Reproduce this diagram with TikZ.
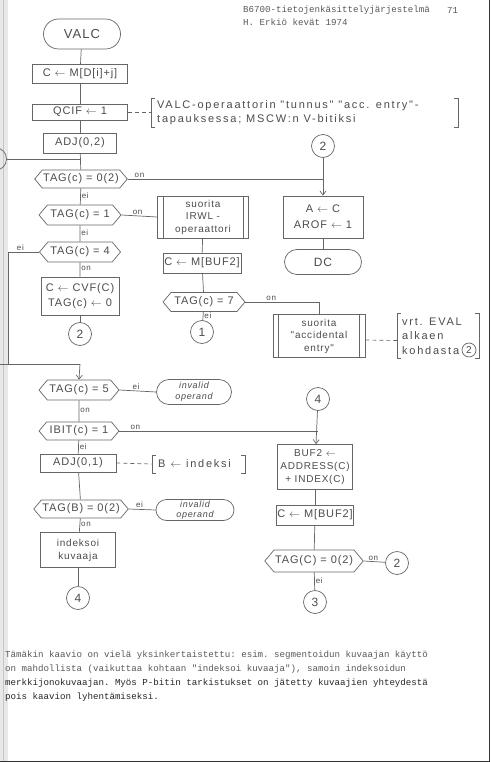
\documentclass[tikz,border=0pt]{standalone}
\usepackage{fontspec}
\setmainfont{Liberation Sans}
\setmonofont{Liberation Mono}
\newfontfamily\hand[LetterSpace=8]{Liberation Sans}
\newfontfamily\handw[LetterSpace=16]{Liberation Sans}
\usetikzlibrary{shapes.misc,shapes.symbols,arrows.meta}
\definecolor{ink}{gray}{0.30}
\definecolor{pen}{gray}{0.40}
\definecolor{type}{gray}{0.35}
\tikzset{
 base/.style={draw=pen, line width=0.7pt, text=ink, font=\hand\fontsize{11}{13}\selectfont, inner sep=1pt, align=center},
 proc/.style={base, rectangle},
 dec/.style={base, signal, signal to=east and west, signal pointer angle=100},
 term/.style={base, rounded rectangle},
 conn/.style={base, circle, minimum size=23pt, font=\hand\fontsize{12}{14}\selectfont},
 lbl/.style={text=ink, font=\hand\fontsize{8}{9}\selectfont, inner sep=1pt},
 note/.style={text=ink, font=\handw\fontsize{11}{13}\selectfont, inner sep=0pt, anchor=west},
 flow/.style={draw=pen, line width=0.7pt},
 arr/.style={flow, -{Straight Barb[length=4pt,width=6pt]}},
 dline/.style={flow, dash pattern=on 4pt off 3pt},
 tt/.style={text=type, font=\ttfamily\fontsize{9.15}{11}\selectfont, inner sep=0pt, anchor=west},
}
\begin{document}
\begin{tikzpicture}[x=1pt,y=-1pt]
\useasboundingbox (0,0) rectangle (490,762);
\fill[white] (0,0) rectangle (490,762);
% scan shadow at the left edge
\fill[gray!18] (0,0) rectangle (8,762);
\draw[gray!45, line width=0.8pt] (3,0) -- (3,762);
% frame at right and bottom
\draw[black!80, line width=1.4pt] (489.3,0) -- (489.3,761.3) -- (0,761.3);

% header
\node[tt] (h1) at (243,10) {B6700-tietojenkäsittelyjärjestelmä};
\node[tt] (h2) at (447,10) {71};
\node[tt] (h3) at (243,22) {H. Erkiö  kevät 1974};

% main column
\node[term, minimum width=79pt, minimum height=30pt, font=\hand\fontsize{13}{15}\selectfont] (valc) at (82,34) {VALC};
\node[proc, minimum width=95pt, minimum height=19pt] (c1) at (80,74) {C $\leftarrow$ M[D[i]+j]};
\node[proc, minimum width=95pt, minimum height=16pt] (qcif) at (80,112) {QCIF $\leftarrow$ 1};
\node[proc, minimum width=73pt, minimum height=20pt] (adj) at (80,143) {ADJ(0,2)};
\coordinate (join) at (80,159);
\node[conn] (lc) at (-5,159) {};
\node[dec, minimum width=82pt, minimum height=18pt] (t0) at (81,179) {TAG(c) = 0(2)};
\node[dec, minimum width=82pt, minimum height=20pt] (t1) at (80,215) {TAG(c) = 1};
\node[dec, minimum width=81pt, minimum height=20pt] (t4) at (80,252) {TAG(c) = 4};
\node[proc, minimum width=78pt, minimum height=38pt] (cvf) at (80,296) {C $\leftarrow$ CVF(C)\\[2pt]TAG(c) $\leftarrow$ 0};
\node[conn] (ca2) at (80,334) {2};

% IRWL branch
\node[proc, minimum width=91pt, minimum height=42pt, font=\hand\fontsize{10}{12.5}\selectfont] (irwl) at (203,217) {suorita\\IRWL -\\operaattori};
\draw[flow] ([xshift=6pt]irwl.north west) -- ([xshift=6pt]irwl.south west);
\draw[flow] ([xshift=-6pt]irwl.north east) -- ([xshift=-6pt]irwl.south east);
\node[proc, minimum width=78pt, minimum height=20pt] (buf) at (202,263) {C $\leftarrow$ M[BUF2]};
\node[dec, minimum width=82pt, minimum height=19pt] (t7) at (204,302) {TAG(c) = 7};
\node[conn] (c1c) at (202,332) {1};
\node[proc, minimum width=92pt, minimum height=43pt, font=\hand\fontsize{10}{12.5}\selectfont] (acc) at (319,336) {suorita\\"accidental\\entry"};
\draw[flow] ([xshift=6pt]acc.north west) -- ([xshift=6pt]acc.south west);
\draw[flow] ([xshift=-6pt]acc.north east) -- ([xshift=-6pt]acc.south east);

% top right branch
\node[conn] (c2t) at (323,146) {2};
\node[proc, minimum width=80pt, minimum height=42pt] (arof) at (323,217) {A $\leftarrow$ C\\[3pt]AROF $\leftarrow$ 1};
\node[term, minimum width=79pt, minimum height=25pt, font=\hand\fontsize{12}{14}\selectfont] (dc) at (323,262) {DC};

% lower part
\coordinate (le) at (0,364);
\node[dec, minimum width=80pt, minimum height=20pt] (t5) at (79,390) {TAG(c) = 5};
\node[term, minimum width=77pt, minimum height=25pt, font=\hand\itshape\fontsize{9}{11}\selectfont] (inv1) at (194,392) {invalid\\operand};
\node[dec, minimum width=80pt, minimum height=18pt] (ibit) at (79,431) {IBIT(c) = 1};
\node[proc, minimum width=76pt, minimum height=18pt] (adj1) at (78,463) {ADJ(0,1)};
\node[dec, minimum width=82pt, minimum height=18pt] (tb) at (81,509) {TAG(B) = 0(2)};
\node[term, minimum width=80pt, minimum height=21pt, font=\hand\itshape\fontsize{9}{10}\selectfont] (inv2) at (195,510) {invalid\\operand};
\node[proc, minimum width=75pt, minimum height=35pt, font=\hand\fontsize{10}{13}\selectfont] (idx) at (78,550) {indeksoi\\kuvaaja};
\node[conn] (c4a) at (78,598) {4};

\node[conn] (c4b) at (318,399) {4};
\node[proc, minimum width=75pt, minimum height=45pt, font=\hand\fontsize{10}{13}\selectfont] (baddr) at (315,467) {BUF2 $\leftarrow$\\ADDRESS(C)\\+ INDEX(C)};
\node[proc, minimum width=75pt, minimum height=20pt] (cb2) at (315,515) {C $\leftarrow$ M[BUF2]};
\node[dec, minimum width=82pt, minimum height=22pt] (t02) at (314,561) {TAG(C) = 0(2)};
\node[conn] (c2r) at (397,563) {2};
\node[conn] (c3) at (315,602) {3};

% annotations (brackets)
\draw[flow] (155,98) -- (151,98) -- (151,127) -- (155,127);
\draw[flow] (454,98) -- (458,98) -- (458,127) -- (454,127);
\node[note] (n1) at (157,106) {VALC-operaattorin "tunnus" "acc. entry"-};
\node[note] (n2) at (157,120) {tapauksessa; MSCW:n V-bitiksi};
\draw[dline] (qcif.east) -- (151,112);

\draw[flow] (401,313) -- (397,313) -- (397,358) -- (401,358);
\draw[flow] (475,313) -- (479,313) -- (479,358) -- (475,358);
\node[note] (n3) at (402,322) {vrt. EVAL};
\node[note] (n4) at (402,336) {alkaen};
\node[note] (n5) at (402,351) {kohdasta};
\node[base, circle, minimum size=14pt, font=\hand\fontsize{10}{12}\selectfont] (n5c) at (469,350) {2};
\draw[dline] ([yshift=-4pt]acc.east) -- (397,340.5);

\draw[flow] (156,455) -- (152,455) -- (152,473) -- (156,473);
\draw[flow] (241,455) -- (245,455) -- (245,473) -- (241,473);
\node[note] (n6) at (158,464) {B $\leftarrow$ indeksi};
\draw[dline] (adj1.east) -- (152,464);

% connectors main column
\draw[flow] (valc) -- (c1);
\draw[flow] (c1) -- (qcif);
\draw[flow] (qcif) -- (adj);
\draw[flow] (adj) -- (t0);
\draw[flow] (lc.east) -- (join);
\draw[flow] (t0) -- node[lbl, right, pos=0.45] {ei} (t1);
\draw[flow] (t1) -- node[lbl, right, pos=0.45] {ei} (t4);
\draw[flow] (t4) -- node[lbl, right, pos=0.45] {on} (cvf);
\draw[flow] (cvf) -- (ca2);
\draw[flow] (t0.east) -- node[lbl, above, pos=0.06] {on} (t0.east -| c2t);
\draw[arr] (c2t) -- (arof);
\draw[flow] (arof) -- (dc);
\draw[flow] (t1.east) -- node[lbl, above, pos=0.45] {on} (irwl.west);
\draw[flow] (irwl) -- (buf);
\draw[flow] (buf) -- (t7);
\draw[flow] (t7) -- node[lbl, right, pos=0.4] {ei} (c1c);
\draw[flow] (t7.east) -- node[lbl, above, pos=0.35] {on} (acc.north |- t7.east) -- (acc.north);
\draw[flow] (t4.west) -- node[lbl, above, pos=0.6] {ei} (8,252) -- (8,364);
\draw[flow] (le) -- (80,364);
\draw[arr] (80,364) -- (t5.north);
\draw[flow] (t5.east) -- node[lbl, above, pos=0.45] {ei} (inv1.west);
\draw[flow] (t5) -- node[lbl, right, pos=0.45] {on} (ibit);
\draw[flow] (ibit.east) -- node[lbl, above, pos=0.08] {on} (ibit.east -| c4b);
\draw[arr] (c4b) -- (baddr);
\draw[flow] (ibit) -- node[lbl, right, pos=0.45] {ei} (adj1);
\draw[flow] (adj1) -- (tb);
\draw[flow] (tb.east) -- node[lbl, above, pos=0.4] {ei} (inv2.west);
\draw[flow] (tb) -- node[lbl, right, pos=0.45] {on} (idx);
\draw[flow] (idx) -- (c4a);
\draw[flow] (baddr) -- (cb2);
\draw[flow] (cb2) -- (t02);
\draw[flow] (t02.east) -- node[lbl, above, pos=0.45] {on} (c2r);
\draw[flow] (t02) -- node[lbl, right, pos=0.45] {ei} (c3);

% closing text
\node[tt] (p1) at (5,655) {Tämäkin kaavio on vielä yksinkertaistettu: esim. segmentoidun kuvaajan käyttö};
\node[tt] (p2) at (5,669) {on mahdollista (vaikuttaa kohtaan "indeksoi kuvaaja"), samoin indeksoidun};
\node[tt, text=black!85] (p3) at (5,683) {merkkijonokuvaajan. Myös P-bitin tarkistukset on jätetty kuvaajien yhteydestä};
\node[tt, text=black!85] (p4) at (5,697) {pois kaavion lyhentämiseksi.};
\end{tikzpicture}
\end{document}
